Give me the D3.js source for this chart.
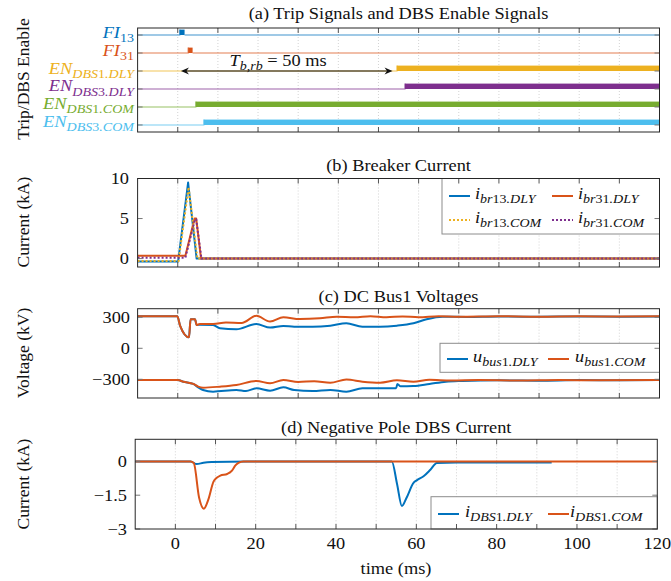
<!DOCTYPE html>
<html><head><meta charset="utf-8">
<script src="https://cdn.jsdelivr.net/npm/d3@7"></script>
<style>
body{margin:0;background:#fff}
text{font-family:"Liberation Serif","Times New Roman",serif;fill:#111}
</style>
</head><body>
<svg id="chart" width="671" height="581"></svg>
<script>
// ---------------- DATA ----------------
const xTickValues = [0, 20, 40, 60, 80, 100, 120];
const xGridValues = [0, 10, 20, 30, 40, 50, 60, 70, 80, 90, 100, 110];

// (a) trip / enable signals
const sigLabels = ["FI_13", "FI_31", "EN_DBS1.DLY", "EN_DBS3.DLY", "EN_DBS1.COM", "EN_DBS3.COM"];
const sigOn  = [0.5, 2.6, 54.6, 56.6, 4.5, 6.5];
const sigOff = [1.7, 3.7, 120, 120, 120, 120];
const arrowStart = 0.8, arrowEnd = 53.5, arrowLabelT = 25;

// (b) breaker currents (kA)
const tBr13DLY = [-10, 0.1, 2.58, 4.7, 120];
const iBr13DLY = [-0.35, -0.35, 9.5, 0, 0];
const tBr31DLY = [-10, 1.9, 4.2, 4.6, 5.8, 120];
const iBr31DLY = [0.35, 0.35, 5.0, 5.0, 0, 0];
const tBr13COM = [-10, 0.2, 2.7, 4.9, 120];
const iBr13COM = [-0.3, -0.3, 8.9, 0, 0];
const tBr31COM = [-10, 1.9, 4.3, 4.6, 5.9, 120];
const iBr31COM = [0.12, 0.12, 4.9, 4.9, 0, 0];
const bTicks = [0, 5, 10];

// (c) DC bus1 voltages (kV)
const tPosDLY = [-10, -0.1, 0.6, 2.8, 3.2, 4.3, 4.7, 5.5, 8.8, 10.5, 14.6, 19.6, 23, 26.3, 29, 33.6, 38, 42, 46, 50.4, 54.6, 58.7, 62, 66, 72, 80, 90, 100, 110, 120];
const uPosDLY = [310, 310, 216, 106, 280, 280, 225, 228, 225, 193, 184, 235, 200, 216, 209, 209, 219, 242, 209, 209, 219, 242, 281, 305, 303, 308, 305, 308, 305, 308];
const tPosCOM = [-10, -0.1, 0.6, 2.8, 3.2, 4.3, 4.7, 5.5, 8.8, 12, 15.9, 19.6, 23, 26.3, 30.4, 35.4, 39.6, 44, 48, 52, 56, 60, 65, 70, 80, 90, 100, 110, 120];
const uPosCOM = [310, 310, 216, 106, 280, 280, 225, 235, 235, 250, 245, 314, 258, 300, 283, 290, 305, 300, 310, 300, 308, 300, 310, 305, 310, 306, 310, 307, 310];
const tNegDLY = [-10, 0, 1.4, 3.9, 5.1, 6.3, 8.8, 14.6, 17, 19.6, 23, 26.3, 29, 33.6, 38, 42, 46, 50.4, 54.4, 54.7, 55.5, 58.7, 62.7, 66.8, 71, 80, 90, 100, 110, 120];
const uNegDLY = [-307, -307, -323, -345, -378, -404, -420, -404, -414, -387, -410, -378, -403, -413, -403, -420, -387, -387, -387, -345, -368, -365, -345, -323, -316, -310, -313, -308, -310, -308];
const tNegCOM = [-10, 0, 1.4, 3.9, 5.1, 6.3, 10.5, 14.6, 19.6, 23, 26.3, 30, 34, 38, 42, 46, 50.4, 54.6, 58.7, 62.7, 68, 75, 85, 95, 105, 120];
const uNegCOM = [-307, -307, -323, -345, -371, -381, -371, -355, -316, -339, -307, -325, -318, -333, -303, -323, -333, -310, -323, -305, -312, -308, -312, -307, -310, -308];
const cTicks = [-300, 0, 300];

// (d) negative pole DBS current (kA)
const tDbsDLY = [-10, 3.8, 5.3, 7, 9, 18, 53.9, 55.2, 56.4, 57.6, 59.3, 60.1, 61.8, 63.5, 65.1, 70, 80, 93.7];
const iDbsDLY = [0, 0, -0.12, -0.06, -0.03, 0, 0, -1.0, -1.98, -1.6, -0.95, -0.84, -0.66, -0.37, -0.07, -0.05, -0.05, -0.05];
const tDbsCOM = [-10, 3.8, 4.6, 5.9, 7.1, 8.2, 9.5, 10.3, 11.2, 12.9, 14.1, 14.9, 15.7, 16.9, 120];
const iDbsCOM = [0, 0, -0.08, -1.6, -2.1, -1.7, -0.9, -0.73, -0.63, -0.56, -0.41, -0.19, -0.07, 0, 0];
const dTicks = [-3, -1.5, 0];

const C = {blue:"#0072BD", orange:"#D95319", yellow:"#EDB120", purple:"#7E2F8E", green:"#77AC30", cyan:"#4DBEEE"};
const sigColors = [C.blue, C.orange, C.yellow, C.purple, C.green, C.cyan];

// ---------------- HELPERS ----------------
const svg = d3.select("#chart");
const FS = 17, SFS = 13, SX = 1.08;

function htext(parent, x, y, anchor, size) {
  return parent.append("text").attr("transform", `translate(${x},${y}) scale(${SX},1)`)
    .attr("text-anchor", anchor).attr("font-size", size || FS);
}

function rich(sel, label, size = FS, sub = SFS) {
  const [main, subs] = label.split("_");
  let cur = 0;
  const add = (t, italic, isSub) => {
    const shift = isSub ? 4 : 0;
    sel.append("tspan").attr("dy", shift - cur).attr("font-size", isSub ? sub : size)
      .attr("font-style", italic ? "italic" : "normal").text(t);
    cur = shift;
  };
  add(main, true, false);
  if (subs) {
    subs.match(/\d+|\D+/g).forEach(run => add(run, !/^\d+$/.test(run), true));
  }
  return () => cur;
}

function makePanel(box, yDomain) {
  const x = d3.scaleLinear().domain([-10, 120]).range([box.x0, box.x1]);
  const y = yDomain ? d3.scaleLinear().domain(yDomain).range([box.y1, box.y0]) : null;
  const g = svg.append("g");
  const id = "clip" + Math.round(box.y0);
  svg.append("clipPath").attr("id", id).append("rect")
    .attr("x", box.x0).attr("y", box.y0).attr("width", box.x1 - box.x0).attr("height", box.y1 - box.y0);
  g.selectAll("line.grid").data(xGridValues).join("line")
    .attr("x1", d => x(d)).attr("x2", d => x(d)).attr("y1", box.y0).attr("y2", box.y1)
    .attr("stroke", "#c8c8c8").attr("stroke-width", 0.8).attr("stroke-dasharray", "1,2");
  const data = g.append("g").attr("clip-path", `url(#${id})`);
  const over = svg.append("g");
  return {x, y, g, data, over, box};
}

function frame(p, yTickPos) {
  const {x, box, over} = p;
  const tl = 5;
  xGridValues.forEach(d => {
    over.append("line").attr("x1", x(d)).attr("x2", x(d)).attr("y1", box.y1).attr("y2", box.y1 - tl)
      .attr("stroke", "#555").attr("stroke-width", 1);
    over.append("line").attr("x1", x(d)).attr("x2", x(d)).attr("y1", box.y0).attr("y2", box.y0 + tl)
      .attr("stroke", "#555").attr("stroke-width", 1);
  });
  yTickPos.forEach(yy => {
    over.append("line").attr("x1", box.x0).attr("x2", box.x0 + tl).attr("y1", yy).attr("y2", yy)
      .attr("stroke", "#777").attr("stroke-width", 1);
    over.append("line").attr("x1", box.x1).attr("x2", box.x1 - tl).attr("y1", yy).attr("y2", yy)
      .attr("stroke", "#777").attr("stroke-width", 1);
  });
  over.append("rect").attr("x", box.x0).attr("y", box.y0)
    .attr("width", box.x1 - box.x0).attr("height", box.y1 - box.y0)
    .attr("fill", "none").attr("stroke", "#262626").attr("stroke-width", 1);
}

function title(p, txt, yBase) {
  htext(svg, (p.box.x0 + p.box.x1) / 2, yBase, "middle").text(txt);
}
function yLabel(txt, yc) {
  svg.append("text").attr("transform", `translate(29,${yc}) rotate(-90)`)
    .attr("text-anchor", "middle").attr("font-size", 17.5).text(txt);
}
function yTickLabels(p, ticks, xr) {
  ticks.forEach(v => {
    htext(svg, xr, p.y(v) + 5.5, "end").text(String(v).replace("-", "\u2212"));
  });
}
function series(p, ts, vs, color, dash, curve) {
  const pts = ts.map((t, i) => [t, vs[i]]);
  const line = d3.line().x(d => p.x(d[0])).y(d => p.y(d[1])).curve(curve || d3.curveLinear);
  p.data.append("path").attr("d", line(pts)).attr("fill", "none").attr("stroke", color)
    .attr("stroke-width", 2).attr("stroke-linejoin", "round")
    .attr("stroke-dasharray", dash ? "2,2" : null);
}
function legend(p, bx, items) {
  const lg = p.over.append("g");
  lg.append("rect").attr("x", bx.x0).attr("y", bx.y0).attr("width", bx.x1 - bx.x0).attr("height", bx.y1 - bx.y0)
    .attr("fill", "#fff").attr("stroke", "#8c8c8c").attr("stroke-width", 1);
  items.forEach(it => {
    lg.append("line").attr("x1", it.lx).attr("x2", it.lx + 21).attr("y1", it.y).attr("y2", it.y)
      .attr("stroke", it.color).attr("stroke-width", 2).attr("stroke-dasharray", it.dash ? "2,2" : null);
    const t = htext(lg, it.tx, it.y + 3, "start");
    rich(t, it.label);
  });
}

// ---------------- PANEL (a) ----------------
const pa = makePanel({x0: 137.6, x1: 659.5, y0: 28, y1: 132});
const rowY = d3.scalePoint().domain(sigLabels).range([pa.box.y0, pa.box.y1]).padding(0.39);
sigLabels.forEach((lab, i) => {
  const yb = rowY(lab), col = sigColors[i], x = pa.x, hh = 5.4;
  pa.data.append("path")
    .attr("d", `M${x(-10)},${yb}H${x(sigOn[i])}V${yb - hh}` + (sigOff[i] < 120 ? `M${x(sigOff[i])},${yb}H${x(120)}` : ""))
    .attr("fill", "none").attr("stroke", col).attr("stroke-width", 1.2).attr("stroke-opacity", 0.75);
  pa.data.append("rect").attr("x", x(sigOn[i])).attr("y", yb - hh)
    .attr("width", x(sigOff[i]) - x(sigOn[i])).attr("height", hh).attr("fill", col);
  const t = htext(svg, 134, yb + 2.5, "end").style("fill", col);
  rich(t, lab);
  t.selectAll("tspan").style("fill", col);
});
{
  const yA = rowY("EN_DBS1.DLY"), x1 = pa.x(arrowStart), x2 = pa.x(arrowEnd);
  pa.data.append("line").attr("x1", x1 + 4).attr("x2", x2 - 4).attr("y1", yA).attr("y2", yA)
    .attr("stroke", "#111").attr("stroke-width", 1);
  pa.data.append("path").attr("d", `M${x1},${yA}L${x1 + 8},${yA - 3.5}L${x1 + 5.5},${yA}L${x1 + 8},${yA + 3.5}Z`).attr("fill", "#111");
  pa.data.append("path").attr("d", `M${x2},${yA}L${x2 - 8},${yA - 3.5}L${x2 - 5.5},${yA}L${x2 - 8},${yA + 3.5}Z`).attr("fill", "#111");
  const t = htext(svg, pa.x(arrowLabelT), yA - 5, "middle");
  const cur = rich(t, "T_b,rb");
  t.append("tspan").attr("dy", -cur()).attr("font-size", FS).text(" = 50 ms");
}
frame(pa, sigLabels.map(l => rowY(l)));
title(pa, "(a) Trip Signals and DBS Enable Signals", 19);
yLabel("Trip/DBS Enable", 79);

// ---------------- PANEL (b) ----------------
const pb = makePanel({x0: 137.6, x1: 659.5, y0: 178.5, y1: 267}, [-1.05, 10]);
series(pb, tBr13DLY, iBr13DLY, C.blue);
series(pb, tBr31DLY, iBr31DLY, C.orange);
series(pb, tBr13COM, iBr13COM, C.yellow, true);
series(pb, tBr31COM, iBr31COM, C.purple, true);
legend(pb, {x0: 442, x1: 659.5, y0: 178.5, y1: 234}, [
  {label: "i_br13.DLY", color: C.blue, lx: 449, tx: 475, y: 196},
  {label: "i_br31.DLY", color: C.orange, lx: 552, tx: 578, y: 196},
  {label: "i_br13.COM", color: C.yellow, dash: true, lx: 449, tx: 475, y: 220},
  {label: "i_br31.COM", color: C.purple, dash: true, lx: 552, tx: 578, y: 220}
]);
frame(pb, bTicks.map(v => pb.y(v)));
yTickLabels(pb, bTicks, 129);
title(pb, "(b) Breaker Current", 171);
yLabel("Current (kA)", 222);

// ---------------- PANEL (c) ----------------
const pc = makePanel({x0: 137.6, x1: 659.5, y0: 308.7, y1: 398}, [-481, 383]);
const cc = d3.curveMonotoneX;
series(pc, tPosDLY, uPosDLY, C.blue, false, cc);
series(pc, tNegDLY, uNegDLY, C.blue, false, cc);
series(pc, tPosCOM, uPosCOM, C.orange, false, cc);
series(pc, tNegCOM, uNegCOM, C.orange, false, cc);
legend(pc, {x0: 440, x1: 659.5, y0: 343.3, y1: 372.3}, [
  {label: "u_bus1.DLY", color: C.blue, lx: 447, tx: 473, y: 359},
  {label: "u_bus1.COM", color: C.orange, lx: 548, tx: 575, y: 359}
]);
frame(pc, cTicks.map(v => pc.y(v)));
yTickLabels(pc, cTicks, 130);
title(pc, "(c) DC Bus1 Voltages", 302);
yLabel("Voltage (kV)", 353);

// ---------------- PANEL (d) ----------------
const pd = makePanel({x0: 135.2, x1: 657.3, y0: 439.3, y1: 529}, [-3, 0.98]);
series(pd, tDbsDLY, iDbsDLY, C.blue, false, d3.curveMonotoneX);
series(pd, tDbsCOM, iDbsCOM, C.orange, false, d3.curveMonotoneX);
legend(pd, {x0: 431, x1: 657.3, y0: 496.7, y1: 529}, [
  {label: "i_DBS1.DLY", color: C.blue, lx: 438, tx: 465, y: 514},
  {label: "i_DBS1.COM", color: C.orange, lx: 548, tx: 570, y: 514}
]);
frame(pd, dTicks.map(v => pd.y(v)));
yTickLabels(pd, dTicks, 127);
xTickValues.forEach(v => { htext(svg, pd.x(v), 549, "middle").text(v); });
htext(svg, 396, 574, "middle").text("time (ms)");
title(pd, "(d) Negative Pole DBS Current", 433);
yLabel("Current (kA)", 484);
</script>
</body></html>
